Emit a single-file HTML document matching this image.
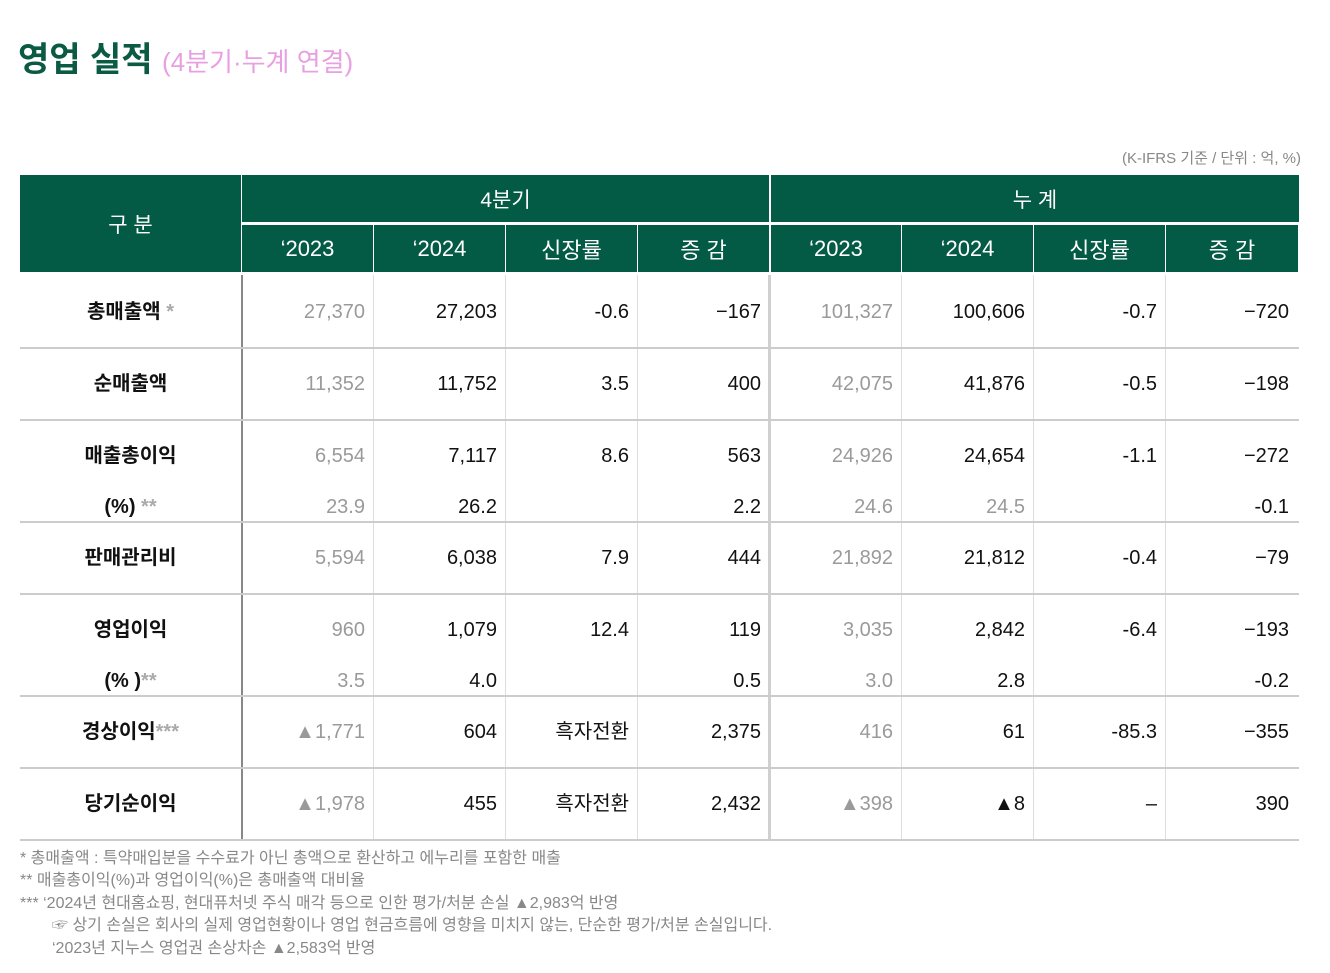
<!DOCTYPE html>
<html><head><meta charset="utf-8"><style>
body{margin:0;width:1330px;height:973px;background:#fff;position:relative;overflow:hidden;font-family:"Liberation Sans","Noto Sans CJK KR",sans-serif}
.a{position:absolute}
.h{background:#035a45;color:#fff;font-size:21px;display:flex;align-items:center;justify-content:center}
.v{font-size:20px;text-align:right;color:#111;line-height:24px;height:24px}
.g{color:#9a9a9a}
.lab{font-size:20px;font-weight:bold;color:#111;text-align:center;width:221px;left:20px;line-height:24px;height:24px}
.note{font-size:16px;color:#888;left:20px}
</style></head><body>
<div class="a" style="left:18px;top:32px;font-size:34px;font-weight:bold;color:#0b5a44">영업 실적 <span style="font-size:26px;font-weight:normal;color:#e8a0e2">(4분기·누계 연결)</span></div>
<div class="a" style="right:29px;top:147px;font-size:15px;color:#888">(K-IFRS 기준 / 단위 : 억, %)</div>
<div id="t"></div>
<div class="a note" style="top:844px">* 총매출액 : 특약매입분을 수수료가 아닌 총액으로 환산하고 에누리를 포함한 매출</div>
<div class="a note" style="top:866px">** 매출총이익(%)과 영업이익(%)은 총매출액 대비율</div>
<div class="a note" style="top:889px">*** ‘2024년 현대홈쇼핑, 현대퓨처넷 주식 매각 등으로 인한 평가/처분 손실 ▲2,983억 반영</div>
<div class="a note" style="top:911px;left:52px">☞ 상기 손실은 회사의 실제 영업현황이나 영업 현금흐름에 영향을 미치지 않는, 단순한 평가/처분 손실입니다.</div>
<div class="a note" style="top:934px;left:52px">‘2023년 지누스 영업권 손상차손 ▲2,583억 반영</div>
<script>
const colX=[242,374,506,638,770,902,1034,1166,1299];
const subHeads=['‘2023','‘2024','신장률','증 감','‘2023','‘2024','신장률','증 감'];
const labels=['총매출액 <span style="color:#aaa">*</span>','순매출액','매출총이익','(%) <span style="color:#aaa">**</span>','판매관리비','영업이익','(% )<span style="color:#aaa">**</span>','경상이익<span style="color:#aaa">***</span>','당기순이익'];
const values=[
['27,370','27,203','-0.6','−167','101,327','100,606','-0.7','−720'],
['11,352','11,752','3.5','400','42,075','41,876','-0.5','−198'],
['6,554','7,117','8.6','563','24,926','24,654','-1.1','−272'],
['23.9','26.2','','2.2','24.6','24.5','','-0.1'],
['5,594','6,038','7.9','444','21,892','21,812','-0.4','−79'],
['960','1,079','12.4','119','3,035','2,842','-6.4','−193'],
['3.5','4.0','','0.5','3.0','2.8','','-0.2'],
['▲1,771','604','흑자전환','2,375','416','61','-85.3','−355'],
['▲1,978','455','흑자전환','2,432','▲398','▲8','–','390']];
const grayMask=[
[1,0,0,0,1,0,0,0],[1,0,0,0,1,0,0,0],[1,0,0,0,1,0,0,0],[1,0,0,0,1,1,0,0],[1,0,0,0,1,0,0,0],[1,0,0,0,1,0,0,0],[1,0,0,0,1,0,0,0],[1,0,0,0,1,0,0,0],[1,0,0,0,1,0,0,0]];
const lineY=[312,384,456,507,558,630,681,732,804];
const sepY=[348,420,522,594,696,768,840];
const T=document.getElementById('t');
function mk(cls,st,html){const d=document.createElement('div');d.className='a '+cls;d.style.cssText=st;d.innerHTML=html;T.appendChild(d);return d;}
let d=mk('h','left:20px;top:175px;width:221px;height:97px','구 분');


d=mk('h','left:242px;top:175px;width:527px;height:47px','4분기');


d=mk('h','left:771px;top:175px;width:528px;height:47px','누 계');


for(let i=0;i<8;i++){
 d=mk('h',`left:${colX[i]+(i==4?1:0)}px;top:225px;width:${colX[i+1]-colX[i]-(i==4?2:1)}px;height:47px;font-size:22px`,subHeads[i]);
 
 
}
const vs=[[242,2,'#888'],[374,1,'#ddd'],[506,1,'#ddd'],[638,1,'#ddd'],[769,3,'#d0d0d0'],[902,1,'#ddd'],[1034,1,'#ddd'],[1166,1,'#ddd']];
vs.forEach((v,i)=>{d=mk('',`left:${v[0]-1}px;top:275px;width:${v[1]}px;height:565px;background:${v[2]}`,'');
 
 });
sepY.forEach(y=>{d=mk('',`left:20px;top:${y-1}px;width:1279px;height:2px;background:#ccc`,'');
 
 });
labels.forEach((l,r)=>{
 d=mk('lab',`top:${lineY[r]-12}px`,l);
 
 
 values[r].forEach((v,c)=>{
  if(!v)return;
  d=mk('v'+(grayMask[r][c]?' g':''),`left:${colX[c]}px;width:${colX[c+1]-colX[c]-(c==7?10:9)}px;top:${lineY[r]-12}px`,v);
  
  
 });
});
</script>
</body></html>
